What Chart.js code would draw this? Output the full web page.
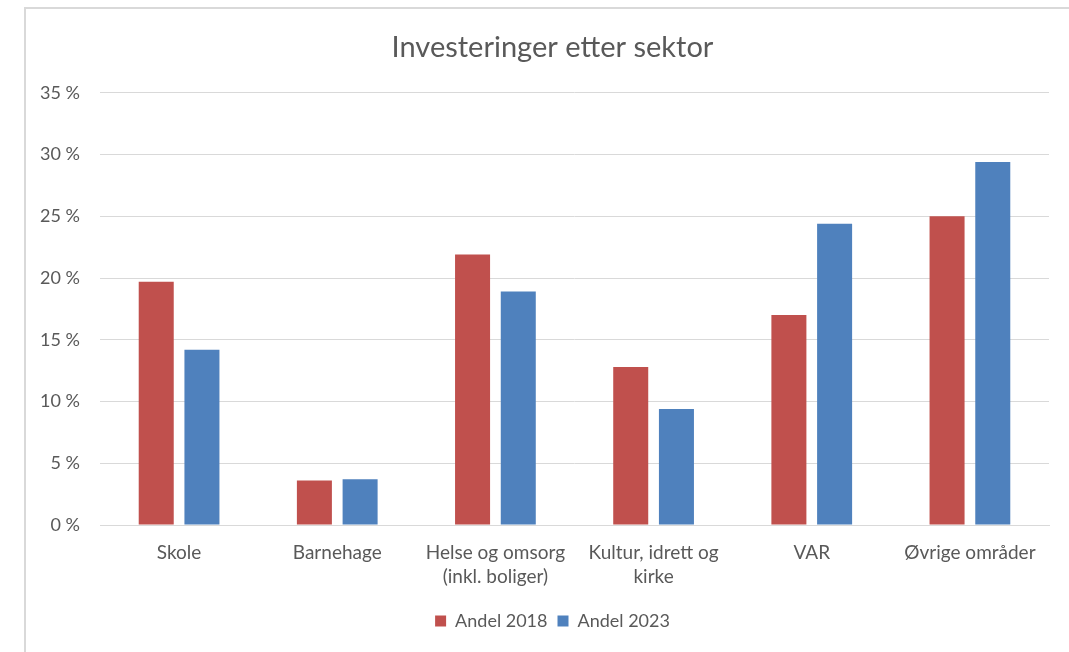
<!DOCTYPE html>
<html>
<head>
<meta charset="utf-8">
<script src="https://cdn.jsdelivr.net/npm/chart.js@4/dist/chart.umd.min.js"></script>
<style>
  html, body { margin: 0; padding: 0; background: #ffffff; overflow: hidden; }
  #wrap { width: 1085px; height: 652px; }
</style>
</head>
<body>
<div id="wrap"><canvas id="sektorChart" width="1085" height="652"></canvas></div>
<script>
// Chart data
const sektorer = [
  "Skole",
  "Barnehage",
  ["Helse og omsorg", "(inkl. boliger)"],
  ["Kultur, idrett og", "kirke"],
  "VAR",
  "Øvrige områder"
];
const andel2018 = [19.7, 3.6, 21.9, 12.8, 17.0, 25.0];
const andel2023 = [14.2, 3.7, 18.9, 9.4, 24.4, 29.4];
const yTicks = [0, 5, 10, 15, 20, 25, 30, 35];

const FONT = "Lato, 'Open Sans', sans-serif";
const GREY_TEXT = '#595959';
const GRID = '#d9d9d9';

// thin frame like the Excel chart border
const framePlugin = {
  id: 'frame',
  beforeDraw(chart) {
    const ctx = chart.ctx;
    ctx.save();
    ctx.strokeStyle = GRID;
    ctx.lineWidth = 2;
    ctx.beginPath();
    ctx.moveTo(25, chart.height);
    ctx.lineTo(25, 8);
    ctx.lineTo(chart.width, 8);
    ctx.stroke();
    ctx.restore();
  }
};

document.addEventListener('DOMContentLoaded', function() {
  const ctx = document.getElementById('sektorChart').getContext('2d');
  new Chart(ctx, {
    type: 'bar',
    data: {
      labels: sektorer,
      datasets: [{
        label: 'Andel 2018',
        data: andel2018,
        backgroundColor: '#c0504d',
        borderWidth: 0
      }, {
        label: 'Andel 2023',
        data: andel2023,
        backgroundColor: '#4f81bd',
        borderWidth: 0
      }]
    },
    plugins: [framePlugin],
    options: {
      responsive: false,
      animation: false,
      categoryPercentage: 0.578,
      barPercentage: 0.766,
      layout: { padding: { left: 25, right: 5, top: 8, bottom: 12 } },
      plugins: {
        tooltip: { enabled: false },
        title: {
          display: true,
          text: 'Investeringer etter sektor',
          color: GREY_TEXT,
          font: { family: FONT, size: 29, weight: 'normal' },
          padding: { top: 22, bottom: 28 }
        },
        legend: {
          position: 'bottom',
          labels: {
            color: GREY_TEXT,
            font: { family: FONT, size: 18 },
            boxWidth: 11,
            boxHeight: 11,
            padding: 10
          }
        }
      },
      scales: {
        x: {
          grid: { display: false },
          border: { color: GRID },
          ticks: {
            color: GREY_TEXT,
            font: { family: FONT, size: 19, lineHeight: 1.27 },
            padding: 8,
            maxRotation: 0,
            autoSkip: false
          },
          afterFit(scale) { scale.height = 77; }
        },
        y: {
          min: 0,
          max: 35,
          border: { display: false },
          grid: { color: GRID, drawTicks: false },
          afterBuildTicks(scale) {
            scale.ticks = yTicks.map(v => ({ value: v }));
          },
          ticks: {
            color: GREY_TEXT,
            font: { family: FONT, size: 18 },
            padding: 20,
            callback: v => v + '\u00a0%'
          },
          afterFit(scale) { scale.width = 75; }
        },
        pad: {
          position: 'right',
          display: true,
          grid: { display: false },
          border: { display: false },
          ticks: { display: false },
          afterFit(scale) { scale.width = 31; }
        }
      }
    }
  });
});
</script>
</body>
</html>
